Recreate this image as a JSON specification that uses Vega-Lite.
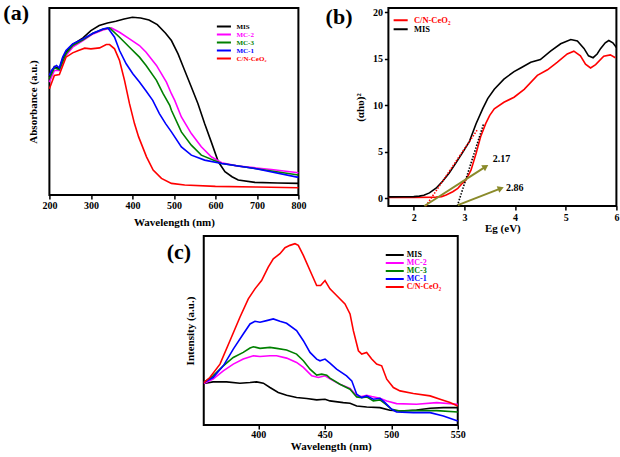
{
"$schema": "https://vega.github.io/schema/vega-lite/v6.json",
"background": "white",
"padding": {"left": 2, "top": 0, "right": 0, "bottom": 0},
"config": {
  "font": "Liberation Serif",
  "view": {"stroke": "black", "strokeWidth": 2},
  "axis": {"domain": false, "grid": false, "tickColor": "black", "tickSize": 4, "tickWidth": 1.5, "labelFlush": false,
    "labelFont": "Liberation Serif", "labelFontWeight": "bold", "labelFontSize": 10, "labelColor": "black",
    "titleFont": "Liberation Serif", "titleFontWeight": "bold", "titleFontSize": 11, "titleColor": "black"},
  "legend": {"labelFont": "Liberation Serif", "labelFontWeight": "bold", "padding": 0, "title": null},
  "text": {"font": "Liberation Serif", "fontWeight": "bold"}
},
"datasets": {
"abs": [
{"sample":"MIS","nm":200,"A":0.710},{"sample":"MIS","nm":212,"A":0.774},{"sample":"MIS","nm":224,"A":0.760},{"sample":"MIS","nm":232,"A":0.820},{"sample":"MIS","nm":240,"A":0.860},{"sample":"MIS","nm":256,"A":0.906},{"sample":"MIS","nm":281,"A":0.946},{"sample":"MIS","nm":300,"A":0.990},{"sample":"MIS","nm":320,"A":1.020},{"sample":"MIS","nm":340,"A":1.036},{"sample":"MIS","nm":360,"A":1.046},{"sample":"MIS","nm":380,"A":1.060},{"sample":"MIS","nm":400,"A":1.070},{"sample":"MIS","nm":420,"A":1.066},{"sample":"MIS","nm":440,"A":1.054},{"sample":"MIS","nm":460,"A":1.026},{"sample":"MIS","nm":480,"A":0.974},{"sample":"MIS","nm":494,"A":0.930},{"sample":"MIS","nm":510,"A":0.850},{"sample":"MIS","nm":526,"A":0.750},{"sample":"MIS","nm":542,"A":0.650},{"sample":"MIS","nm":558,"A":0.550},{"sample":"MIS","nm":574,"A":0.430},{"sample":"MIS","nm":590,"A":0.320},{"sample":"MIS","nm":607,"A":0.200},{"sample":"MIS","nm":623,"A":0.140},{"sample":"MIS","nm":640,"A":0.110},{"sample":"MIS","nm":655,"A":0.090},{"sample":"MIS","nm":695,"A":0.076},{"sample":"MIS","nm":750,"A":0.072},{"sample":"MIS","nm":800,"A":0.070},
{"sample":"MC-2","nm":200,"A":0.680},{"sample":"MC-2","nm":212,"A":0.750},{"sample":"MC-2","nm":224,"A":0.750},{"sample":"MC-2","nm":240,"A":0.840},{"sample":"MC-2","nm":256,"A":0.890},{"sample":"MC-2","nm":281,"A":0.930},{"sample":"MC-2","nm":305,"A":0.970},{"sample":"MC-2","nm":329,"A":0.994},{"sample":"MC-2","nm":349,"A":1.006},{"sample":"MC-2","nm":369,"A":0.980},{"sample":"MC-2","nm":393,"A":0.940},{"sample":"MC-2","nm":417,"A":0.900},{"sample":"MC-2","nm":433,"A":0.860},{"sample":"MC-2","nm":458,"A":0.780},{"sample":"MC-2","nm":482,"A":0.680},{"sample":"MC-2","nm":494,"A":0.610},{"sample":"MC-2","nm":502,"A":0.570},{"sample":"MC-2","nm":518,"A":0.470},{"sample":"MC-2","nm":542,"A":0.370},{"sample":"MC-2","nm":566,"A":0.290},{"sample":"MC-2","nm":590,"A":0.230},{"sample":"MC-2","nm":615,"A":0.194},{"sample":"MC-2","nm":655,"A":0.174},{"sample":"MC-2","nm":735,"A":0.154},{"sample":"MC-2","nm":800,"A":0.134},
{"sample":"MC-3","nm":200,"A":0.700},{"sample":"MC-3","nm":212,"A":0.766},{"sample":"MC-3","nm":224,"A":0.754},{"sample":"MC-3","nm":240,"A":0.850},{"sample":"MC-3","nm":256,"A":0.900},{"sample":"MC-3","nm":281,"A":0.934},{"sample":"MC-3","nm":305,"A":0.974},{"sample":"MC-3","nm":329,"A":0.998},{"sample":"MC-3","nm":345,"A":1.006},{"sample":"MC-3","nm":369,"A":0.950},{"sample":"MC-3","nm":393,"A":0.890},{"sample":"MC-3","nm":417,"A":0.830},{"sample":"MC-3","nm":433,"A":0.780},{"sample":"MC-3","nm":458,"A":0.690},{"sample":"MC-3","nm":474,"A":0.610},{"sample":"MC-3","nm":490,"A":0.540},{"sample":"MC-3","nm":494,"A":0.510},{"sample":"MC-3","nm":518,"A":0.380},{"sample":"MC-3","nm":542,"A":0.300},{"sample":"MC-3","nm":566,"A":0.240},{"sample":"MC-3","nm":615,"A":0.190},{"sample":"MC-3","nm":695,"A":0.160},{"sample":"MC-3","nm":800,"A":0.120},
{"sample":"MC-1","nm":200,"A":0.720},{"sample":"MC-1","nm":205,"A":0.750},{"sample":"MC-1","nm":212,"A":0.770},{"sample":"MC-1","nm":217,"A":0.780},{"sample":"MC-1","nm":224,"A":0.766},{"sample":"MC-1","nm":232,"A":0.830},{"sample":"MC-1","nm":240,"A":0.870},{"sample":"MC-1","nm":256,"A":0.910},{"sample":"MC-1","nm":281,"A":0.940},{"sample":"MC-1","nm":305,"A":0.974},{"sample":"MC-1","nm":329,"A":1.000},{"sample":"MC-1","nm":341,"A":1.006},{"sample":"MC-1","nm":357,"A":0.950},{"sample":"MC-1","nm":369,"A":0.870},{"sample":"MC-1","nm":385,"A":0.790},{"sample":"MC-1","nm":401,"A":0.730},{"sample":"MC-1","nm":417,"A":0.680},{"sample":"MC-1","nm":433,"A":0.626},{"sample":"MC-1","nm":449,"A":0.570},{"sample":"MC-1","nm":465,"A":0.490},{"sample":"MC-1","nm":480,"A":0.430},{"sample":"MC-1","nm":494,"A":0.380},{"sample":"MC-1","nm":518,"A":0.290},{"sample":"MC-1","nm":542,"A":0.240},{"sample":"MC-1","nm":574,"A":0.210},{"sample":"MC-1","nm":615,"A":0.190},{"sample":"MC-1","nm":695,"A":0.160},{"sample":"MC-1","nm":800,"A":0.106},
{"sample":"C/N-CeO₂","nm":200,"A":0.640},{"sample":"C/N-CeO₂","nm":212,"A":0.720},{"sample":"C/N-CeO₂","nm":224,"A":0.726},{"sample":"C/N-CeO₂","nm":240,"A":0.830},{"sample":"C/N-CeO₂","nm":256,"A":0.856},{"sample":"C/N-CeO₂","nm":270,"A":0.870},{"sample":"C/N-CeO₂","nm":285,"A":0.884},{"sample":"C/N-CeO₂","nm":300,"A":0.880},{"sample":"C/N-CeO₂","nm":321,"A":0.886},{"sample":"C/N-CeO₂","nm":337,"A":0.906},{"sample":"C/N-CeO₂","nm":345,"A":0.906},{"sample":"C/N-CeO₂","nm":357,"A":0.880},{"sample":"C/N-CeO₂","nm":369,"A":0.810},{"sample":"C/N-CeO₂","nm":381,"A":0.690},{"sample":"C/N-CeO₂","nm":393,"A":0.550},{"sample":"C/N-CeO₂","nm":405,"A":0.430},{"sample":"C/N-CeO₂","nm":415,"A":0.350},{"sample":"C/N-CeO₂","nm":434,"A":0.230},{"sample":"C/N-CeO₂","nm":450,"A":0.150},{"sample":"C/N-CeO₂","nm":470,"A":0.100},{"sample":"C/N-CeO₂","nm":494,"A":0.070},{"sample":"C/N-CeO₂","nm":526,"A":0.060},{"sample":"C/N-CeO₂","nm":600,"A":0.052},{"sample":"C/N-CeO₂","nm":700,"A":0.048},{"sample":"C/N-CeO₂","nm":800,"A":0.044}
],
"tauc": [
{"sample":"C/N-CeO₂","eV":1.5,"v":0.05},{"sample":"C/N-CeO₂","eV":2.0,"v":0.05},{"sample":"C/N-CeO₂","eV":2.44,"v":0.1},{"sample":"C/N-CeO₂","eV":2.55,"v":0.15},{"sample":"C/N-CeO₂","eV":2.64,"v":0.32},{"sample":"C/N-CeO₂","eV":2.77,"v":0.68},{"sample":"C/N-CeO₂","eV":2.87,"v":1.04},{"sample":"C/N-CeO₂","eV":2.96,"v":1.58},{"sample":"C/N-CeO₂","eV":3.03,"v":1.94},{"sample":"C/N-CeO₂","eV":3.13,"v":3.0},{"sample":"C/N-CeO₂","eV":3.23,"v":4.8},{"sample":"C/N-CeO₂","eV":3.32,"v":6.6},{"sample":"C/N-CeO₂","eV":3.42,"v":8.0},{"sample":"C/N-CeO₂","eV":3.50,"v":8.9},{"sample":"C/N-CeO₂","eV":3.59,"v":9.6},{"sample":"C/N-CeO₂","eV":3.78,"v":10.3},{"sample":"C/N-CeO₂","eV":3.98,"v":10.85},{"sample":"C/N-CeO₂","eV":4.18,"v":11.7},{"sample":"C/N-CeO₂","eV":4.44,"v":13.2},{"sample":"C/N-CeO₂","eV":4.64,"v":13.8},{"sample":"C/N-CeO₂","eV":4.83,"v":14.6},{"sample":"C/N-CeO₂","eV":5.03,"v":15.5},{"sample":"C/N-CeO₂","eV":5.16,"v":15.8},{"sample":"C/N-CeO₂","eV":5.29,"v":15.3},{"sample":"C/N-CeO₂","eV":5.39,"v":14.4},{"sample":"C/N-CeO₂","eV":5.49,"v":14.0},{"sample":"C/N-CeO₂","eV":5.59,"v":14.35},{"sample":"C/N-CeO₂","eV":5.75,"v":15.25},{"sample":"C/N-CeO₂","eV":5.88,"v":15.4},{"sample":"C/N-CeO₂","eV":5.98,"v":15.1},
{"sample":"MIS","eV":1.5,"v":0.12},{"sample":"MIS","eV":1.8,"v":0.13},{"sample":"MIS","eV":2.0,"v":0.15},{"sample":"MIS","eV":2.11,"v":0.2},{"sample":"MIS","eV":2.2,"v":0.3},{"sample":"MIS","eV":2.31,"v":0.55},{"sample":"MIS","eV":2.44,"v":1.05},{"sample":"MIS","eV":2.57,"v":1.8},{"sample":"MIS","eV":2.70,"v":2.7},{"sample":"MIS","eV":2.83,"v":3.75},{"sample":"MIS","eV":2.96,"v":4.85},{"sample":"MIS","eV":3.10,"v":6.1},{"sample":"MIS","eV":3.23,"v":8.0},{"sample":"MIS","eV":3.36,"v":9.6},{"sample":"MIS","eV":3.46,"v":10.7},{"sample":"MIS","eV":3.59,"v":11.7},{"sample":"MIS","eV":3.78,"v":12.8},{"sample":"MIS","eV":3.98,"v":13.6},{"sample":"MIS","eV":4.11,"v":14.0},{"sample":"MIS","eV":4.31,"v":14.6},{"sample":"MIS","eV":4.5,"v":14.9},{"sample":"MIS","eV":4.7,"v":15.8},{"sample":"MIS","eV":4.9,"v":16.6},{"sample":"MIS","eV":5.1,"v":17.05},{"sample":"MIS","eV":5.23,"v":16.9},{"sample":"MIS","eV":5.36,"v":16.1},{"sample":"MIS","eV":5.45,"v":15.3},{"sample":"MIS","eV":5.54,"v":15.1},{"sample":"MIS","eV":5.62,"v":15.5},{"sample":"MIS","eV":5.69,"v":16.1},{"sample":"MIS","eV":5.78,"v":16.7},{"sample":"MIS","eV":5.85,"v":16.95},{"sample":"MIS","eV":5.93,"v":16.7},{"sample":"MIS","eV":6.0,"v":16.2}
],
"tangents": [
{"fit":"MIS","e0":2.24,"v0":-0.86,"e1":3.25,"v1":7.3},
{"fit":"C/N-CeO₂","e0":2.86,"v0":-0.86,"e1":3.38,"v1":8.0}
],
"arrows": [
{"gap":"2.17","e0":2.21,"v0":-0.86,"e1":3.42,"v1":3.38,"le":3.56,"lv":4.17},
{"gap":"2.86","e0":2.87,"v0":-0.76,"e1":3.72,"v1":1.04,"le":3.82,"lv":1.1}
],
"pl": [
{"sample":"MIS","nm":359.1,"I":24.8},{"sample":"MIS","nm":366,"I":25.8},{"sample":"MIS","nm":376.2,"I":25.8},{"sample":"MIS","nm":386.2,"I":25},{"sample":"MIS","nm":393.8,"I":25.4},{"sample":"MIS","nm":398.8,"I":25.8},{"sample":"MIS","nm":403.8,"I":25},{"sample":"MIS","nm":408.8,"I":22.4},{"sample":"MIS","nm":415,"I":19.4},{"sample":"MIS","nm":421.3,"I":17.8},{"sample":"MIS","nm":428.8,"I":16.4},{"sample":"MIS","nm":436.4,"I":15.8},{"sample":"MIS","nm":443.9,"I":15},{"sample":"MIS","nm":450.2,"I":15.4},{"sample":"MIS","nm":453.9,"I":14.4},{"sample":"MIS","nm":463.9,"I":13.4},{"sample":"MIS","nm":469,"I":13},{"sample":"MIS","nm":474,"I":11.4},{"sample":"MIS","nm":481.5,"I":10.8},{"sample":"MIS","nm":491.5,"I":10.4},{"sample":"MIS","nm":499,"I":8.8},{"sample":"MIS","nm":506.6,"I":8.4},{"sample":"MIS","nm":519,"I":9},{"sample":"MIS","nm":529.2,"I":10},{"sample":"MIS","nm":539.2,"I":10.4},{"sample":"MIS","nm":550,"I":10.4},
{"sample":"MC-2","nm":359.1,"I":24.8},{"sample":"MC-2","nm":366,"I":27.4},{"sample":"MC-2","nm":373.7,"I":32.4},{"sample":"MC-2","nm":381.2,"I":36.4},{"sample":"MC-2","nm":388.7,"I":39.4},{"sample":"MC-2","nm":396.3,"I":41.4},{"sample":"MC-2","nm":401.3,"I":41},{"sample":"MC-2","nm":408.8,"I":41.4},{"sample":"MC-2","nm":413.8,"I":41.4},{"sample":"MC-2","nm":421.3,"I":40},{"sample":"MC-2","nm":428.8,"I":37.4},{"sample":"MC-2","nm":433.9,"I":34.4},{"sample":"MC-2","nm":440.2,"I":29.4},{"sample":"MC-2","nm":445.2,"I":28.4},{"sample":"MC-2","nm":450.2,"I":29.4},{"sample":"MC-2","nm":453.9,"I":27.6},{"sample":"MC-2","nm":461.4,"I":24.4},{"sample":"MC-2","nm":469,"I":21.8},{"sample":"MC-2","nm":474,"I":17.4},{"sample":"MC-2","nm":477.8,"I":17},{"sample":"MC-2","nm":481.5,"I":17.8},{"sample":"MC-2","nm":485.3,"I":17},{"sample":"MC-2","nm":491.5,"I":16},{"sample":"MC-2","nm":496.6,"I":14.4},{"sample":"MC-2","nm":504,"I":12.8},{"sample":"MC-2","nm":519,"I":12.4},{"sample":"MC-2","nm":534.2,"I":13.4},{"sample":"MC-2","nm":550,"I":12.4},
{"sample":"MC-3","nm":359.1,"I":25.4},{"sample":"MC-3","nm":366,"I":29.4},{"sample":"MC-3","nm":373.7,"I":35.4},{"sample":"MC-3","nm":381.2,"I":40.4},{"sample":"MC-3","nm":388.7,"I":43.4},{"sample":"MC-3","nm":393.8,"I":46},{"sample":"MC-3","nm":396.3,"I":46.8},{"sample":"MC-3","nm":401.3,"I":45.8},{"sample":"MC-3","nm":408.8,"I":46.4},{"sample":"MC-3","nm":413.8,"I":45.8},{"sample":"MC-3","nm":421.3,"I":44.8},{"sample":"MC-3","nm":428.8,"I":42.4},{"sample":"MC-3","nm":433.9,"I":38.4},{"sample":"MC-3","nm":438.9,"I":33.4},{"sample":"MC-3","nm":443.9,"I":29.8},{"sample":"MC-3","nm":447.7,"I":30.4},{"sample":"MC-3","nm":451.5,"I":29.8},{"sample":"MC-3","nm":453.9,"I":28},{"sample":"MC-3","nm":461.4,"I":24.4},{"sample":"MC-3","nm":469,"I":21.4},{"sample":"MC-3","nm":474,"I":16.8},{"sample":"MC-3","nm":477.8,"I":16.4},{"sample":"MC-3","nm":481.5,"I":16.8},{"sample":"MC-3","nm":486.5,"I":14.4},{"sample":"MC-3","nm":491.5,"I":15},{"sample":"MC-3","nm":495.3,"I":12.8},{"sample":"MC-3","nm":500.3,"I":9.4},{"sample":"MC-3","nm":506.6,"I":8.4},{"sample":"MC-3","nm":519,"I":8.6},{"sample":"MC-3","nm":534.2,"I":8.6},{"sample":"MC-3","nm":550,"I":7.8},
{"sample":"MC-1","nm":359.1,"I":25.4},{"sample":"MC-1","nm":366,"I":28.4},{"sample":"MC-1","nm":373.7,"I":35.4},{"sample":"MC-1","nm":381.2,"I":45.4},{"sample":"MC-1","nm":388.7,"I":54.4},{"sample":"MC-1","nm":393.8,"I":60.4},{"sample":"MC-1","nm":397.5,"I":62},{"sample":"MC-1","nm":401.3,"I":61.4},{"sample":"MC-1","nm":406.3,"I":62.4},{"sample":"MC-1","nm":411.3,"I":63.4},{"sample":"MC-1","nm":416.3,"I":62},{"sample":"MC-1","nm":421.3,"I":60.8},{"sample":"MC-1","nm":428.8,"I":56.4},{"sample":"MC-1","nm":433.9,"I":50.4},{"sample":"MC-1","nm":438.9,"I":43.4},{"sample":"MC-1","nm":443.9,"I":39.4},{"sample":"MC-1","nm":446.4,"I":38.4},{"sample":"MC-1","nm":450.2,"I":39.4},{"sample":"MC-1","nm":453.9,"I":37},{"sample":"MC-1","nm":458.9,"I":33.4},{"sample":"MC-1","nm":466.4,"I":29.4},{"sample":"MC-1","nm":470.3,"I":26.4},{"sample":"MC-1","nm":474,"I":18.4},{"sample":"MC-1","nm":477.8,"I":16.4},{"sample":"MC-1","nm":481.5,"I":17.4},{"sample":"MC-1","nm":486.5,"I":15.4},{"sample":"MC-1","nm":491.5,"I":16},{"sample":"MC-1","nm":495.3,"I":13.4},{"sample":"MC-1","nm":500.3,"I":9.4},{"sample":"MC-1","nm":504,"I":7.8},{"sample":"MC-1","nm":516.6,"I":7.4},{"sample":"MC-1","nm":529.2,"I":7.4},{"sample":"MC-1","nm":539.2,"I":5.4},{"sample":"MC-1","nm":550,"I":2.4},
{"sample":"C/N-CeO₂","nm":359.1,"I":25.4},{"sample":"C/N-CeO₂","nm":363.6,"I":28.4},{"sample":"C/N-CeO₂","nm":371.2,"I":36.4},{"sample":"C/N-CeO₂","nm":378.7,"I":50.4},{"sample":"C/N-CeO₂","nm":386.2,"I":64.4},{"sample":"C/N-CeO₂","nm":392.5,"I":75.4},{"sample":"C/N-CeO₂","nm":397.5,"I":81.4},{"sample":"C/N-CeO₂","nm":402.5,"I":86.4},{"sample":"C/N-CeO₂","nm":407.5,"I":94.4},{"sample":"C/N-CeO₂","nm":411.3,"I":99.4},{"sample":"C/N-CeO₂","nm":416.3,"I":102.4},{"sample":"C/N-CeO₂","nm":420.1,"I":106},{"sample":"C/N-CeO₂","nm":423.8,"I":107.4},{"sample":"C/N-CeO₂","nm":427.6,"I":108.4},{"sample":"C/N-CeO₂","nm":430.1,"I":107.4},{"sample":"C/N-CeO₂","nm":433.9,"I":101.4},{"sample":"C/N-CeO₂","nm":438.9,"I":92.4},{"sample":"C/N-CeO₂","nm":443.9,"I":83.4},{"sample":"C/N-CeO₂","nm":446.9,"I":83.4},{"sample":"C/N-CeO₂","nm":450.2,"I":86.4},{"sample":"C/N-CeO₂","nm":453.9,"I":81.4},{"sample":"C/N-CeO₂","nm":458.9,"I":77.4},{"sample":"C/N-CeO₂","nm":465.2,"I":72.4},{"sample":"C/N-CeO₂","nm":469,"I":66.4},{"sample":"C/N-CeO₂","nm":471.5,"I":56.4},{"sample":"C/N-CeO₂","nm":475.3,"I":44.4},{"sample":"C/N-CeO₂","nm":477.8,"I":42.4},{"sample":"C/N-CeO₂","nm":481.5,"I":43.4},{"sample":"C/N-CeO₂","nm":485.3,"I":39.4},{"sample":"C/N-CeO₂","nm":489,"I":36.4},{"sample":"C/N-CeO₂","nm":492.8,"I":35.4},{"sample":"C/N-CeO₂","nm":496.6,"I":27.4},{"sample":"C/N-CeO₂","nm":501.6,"I":22.4},{"sample":"C/N-CeO₂","nm":506.6,"I":20.4},{"sample":"C/N-CeO₂","nm":516.6,"I":18.8},{"sample":"C/N-CeO₂","nm":529.2,"I":17.4},{"sample":"C/N-CeO₂","nm":536.7,"I":15.4},{"sample":"C/N-CeO₂","nm":544.2,"I":13.4},{"sample":"C/N-CeO₂","nm":550,"I":11.4}
]
},
"spacing": 1,
"center": true,
"resolve": {"scale": {"color": "independent"}, "legend": {"color": "independent"}},
"vconcat": [
{
 "spacing": 17,
 "resolve": {"scale": {"color": "independent"}, "legend": {"color": "independent"}},
 "hconcat": [
  {
   "width": 249, "height": 187,
   "layer": [
    {
     "data": {"name": "abs"},
     "mark": {"type": "line", "strokeWidth": 1.6},
     "encoding": {
      "x": {"field": "nm", "type": "quantitative", "scale": {"domain": [200, 800], "nice": false}, "axis": {"values": [200,300,400,500,600,700,800], "title": "Wavelength (nm)", "labelPadding": 1, "titlePadding": 6}},
      "y": {"field": "A", "type": "quantitative", "scale": {"domain": [0, 1.126], "nice": false, "zero": false}, "axis": {"title": "Absorbance (a.u.)", "labels": false, "ticks": false, "titlePadding": 11}},
      "color": {"field": "sample", "type": "nominal",
        "scale": {"domain": ["MIS","MC-2","MC-3","MC-1","C/N-CeO₂"], "range": ["#000000","#ff00ff","#008000","#0000ff","#ff0000"]},
        "legend": {"orient": "none", "legendX": 171, "legendY": 15, "symbolType": "M-3,0H3", "symbolSize": 22, "symbolStrokeWidth": 2, "labelFontSize": 7, "rowPadding": -8, "labelOffset": 9,
          "encode": {"labels": {"update": {"fill": {"signal": "datum.value === 'MIS' ? '#000000' : datum.value === 'MC-2' ? '#ff00ff' : datum.value === 'MC-3' ? '#008000' : datum.value === 'MC-1' ? '#0000ff' : '#ff0000'"}}}}}}
     }
    },
    {
     "data": {"values": [{"panel": "(a)"}]},
     "mark": {"type": "text", "fontSize": 22, "align": "left", "baseline": "alphabetic", "color": "black"},
     "encoding": {"x": {"datum": 89}, "y": {"datum": 1.054}, "text": {"field": "panel"}}
    }
   ]
  },
  {
   "width": 228, "height": 198,
   "layer": [
    {
     "data": {"name": "tauc"},
     "mark": {"type": "line", "strokeWidth": 1.6},
     "encoding": {
      "x": {"field": "eV", "type": "quantitative", "scale": {"domain": [1.5, 6], "nice": false, "zero": false}, "axis": {"values": [2,3,4,5,6], "title": "Eg (eV)", "labelPadding": 2, "titlePadding": 0}},
      "y": {"field": "v", "type": "quantitative", "scale": {"domain": [-0.86, 20.45], "nice": false, "zero": false}, "axis": {"values": [0,5,10,15,20], "title": "(αhυ)²", "titlePadding": 7}},
      "color": {"field": "sample", "type": "nominal",
        "scale": {"domain": ["C/N-CeO₂","MIS"], "range": ["#ff0000","#000000"]},
        "legend": {"orient": "none", "legendX": 8, "legendY": 8, "symbolType": "M-3,0H3", "symbolSize": 22, "symbolStrokeWidth": 2, "labelFontSize": 8.5, "rowPadding": -1, "labelOffset": 9,
          "encode": {"labels": {"update": {"fill": {"signal": "datum.value === 'MIS' ? '#000000' : '#ff0000'"}}}}}}
     }
    },
    {
     "data": {"name": "tangents"},
     "mark": {"type": "rule", "strokeWidth": 1.6, "strokeDash": [1.5, 1.5]},
     "encoding": {"x": {"field": "e0", "type": "quantitative"}, "y": {"field": "v0", "type": "quantitative"}, "x2": {"field": "e1"}, "y2": {"field": "v1"},
       "stroke": {"field": "fit", "type": "nominal", "scale": {"domain": ["MIS","C/N-CeO₂"], "range": ["#ff0000","#000000"]}, "legend": null}}
    },
    {
     "data": {"name": "arrows"},
     "mark": {"type": "rule", "strokeWidth": 2, "color": "#8a8a2a"},
     "encoding": {"x": {"field": "e0", "type": "quantitative"}, "y": {"field": "v0", "type": "quantitative"}, "x2": {"field": "e1"}, "y2": {"field": "v1"}}
    },
    {
     "data": {"name": "arrows"},
     "transform": [{"filter": "datum.gap === '2.17'"}],
     "mark": {"type": "point", "shape": "triangle-right", "filled": true, "size": 50, "color": "#8a8a2a", "opacity": 1, "angle": 327},
     "encoding": {"x": {"field": "e1", "type": "quantitative"}, "y": {"field": "v1", "type": "quantitative"}}
    },
    {
     "data": {"name": "arrows"},
     "transform": [{"filter": "datum.gap === '2.86'"}],
     "mark": {"type": "point", "shape": "triangle-right", "filled": true, "size": 50, "color": "#8a8a2a", "opacity": 1, "angle": 339},
     "encoding": {"x": {"field": "e1", "type": "quantitative"}, "y": {"field": "v1", "type": "quantitative"}}
    },
    {
     "data": {"name": "arrows"},
     "mark": {"type": "text", "fontSize": 10, "align": "left", "baseline": "middle", "color": "black"},
     "encoding": {"x": {"field": "le", "type": "quantitative"}, "y": {"field": "lv", "type": "quantitative"}, "text": {"field": "gap"}}
    },
    {
     "data": {"values": [{"panel": "(b)"}]},
     "mark": {"type": "text", "fontSize": 22, "align": "left", "baseline": "alphabetic", "color": "black"},
     "encoding": {"x": {"datum": 0.26}, "y": {"datum": 18.76}, "text": {"field": "panel"}}
    }
   ]
  }
 ]
},
{
 "width": 254, "height": 189,
 "layer": [
  {
   "data": {"name": "pl"},
   "mark": {"type": "line", "strokeWidth": 1.6},
   "encoding": {
    "x": {"field": "nm", "type": "quantitative", "scale": {"domain": [359, 550], "nice": false, "zero": false}, "axis": {"values": [400,450,500,550], "title": "Wavelength (nm)", "labelPadding": 0, "titlePadding": 1}},
    "y": {"field": "I", "type": "quantitative", "scale": {"domain": [0, 113], "nice": false}, "axis": {"title": "Intensity (a.u.)", "labels": false, "ticks": false, "titlePadding": 8}},
    "color": {"field": "sample", "type": "nominal",
      "scale": {"domain": ["MIS","MC-2","MC-3","MC-1","C/N-CeO₂"], "range": ["#000000","#ff00ff","#008000","#0000ff","#ff0000"]},
      "legend": {"orient": "none", "legendX": 187, "legendY": 15, "symbolType": "M-3,0H3", "symbolSize": 36, "symbolStrokeWidth": 2, "labelFontSize": 8, "rowPadding": -1.5, "labelOffset": 8,
        "encode": {"labels": {"update": {"fill": {"signal": "datum.value === 'MIS' ? '#000000' : datum.value === 'MC-2' ? '#ff00ff' : datum.value === 'MC-3' ? '#008000' : datum.value === 'MC-1' ? '#0000ff' : '#ff0000'"}}}}}}
   }
  },
  {
   "data": {"values": [{"panel": "(c)"}]},
   "mark": {"type": "text", "fontSize": 22, "align": "left", "baseline": "alphabetic", "color": "black"},
   "encoding": {"x": {"datum": 331.2}, "y": {"datum": 99.2}, "text": {"field": "panel"}}
  }
 ]
}
]
}
